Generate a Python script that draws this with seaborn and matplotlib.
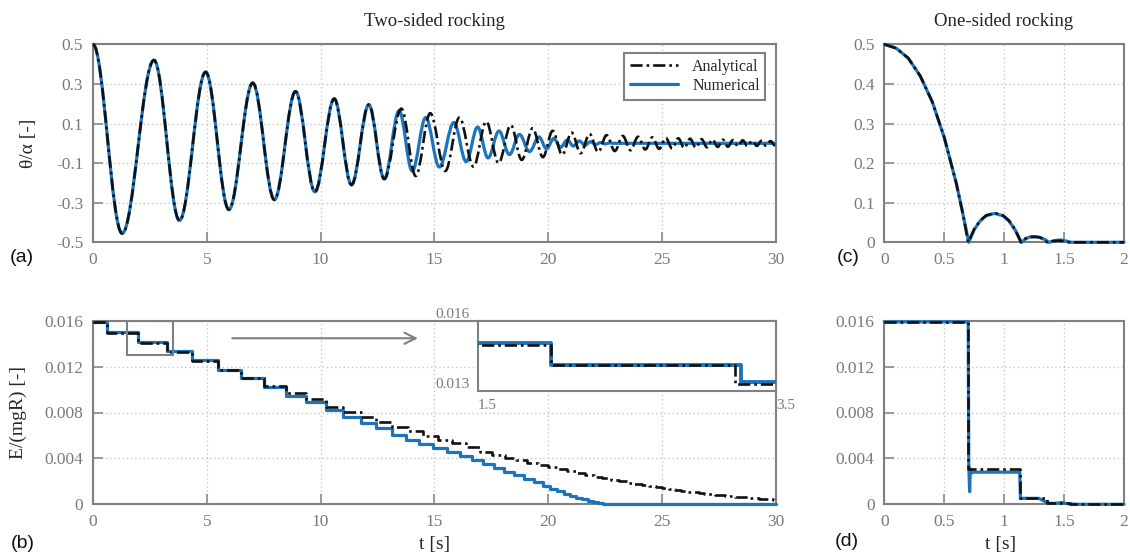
import matplotlib
matplotlib.use("Agg")
import matplotlib.pyplot as plt
import seaborn as sns
from matplotlib.path import Path
from matplotlib.patches import PathPatch, Rectangle
from matplotlib.lines import Line2D

# ---------------- data ----------------
# (a) two-sided rocking: extrema of theta/alpha (time [s], value)
a_common_t = [0.0, 1.28, 2.68, 3.8, 4.95, 5.97, 7.02, 7.97, 8.9, 9.75, 10.6, 11.36, 12.12, 12.8]
a_common_v = [0.5, -0.455, 0.42, -0.39, 0.36, -0.335, 0.305, -0.285, 0.262, -0.245, 0.225, -0.21, 0.195, -0.18]

a_ana_tail_t = [13.55, 14.18, 14.82, 15.48, 16.1, 16.72, 17.28, 17.82, 18.36, 18.84,
                19.32, 19.77, 20.2, 20.62, 21.03, 21.43, 21.82, 22.2, 22.57, 22.93,
                23.28, 23.62, 23.95, 24.27, 24.58, 24.88, 25.17, 25.45, 25.72, 25.98,
                26.24, 26.49, 26.74, 26.98, 27.22, 27.45, 27.68, 27.9, 28.12, 28.34,
                28.55, 28.76, 28.97, 29.17, 29.37, 29.57, 29.77, 29.97]
a_ana_tail_v = [0.175, -0.165, 0.152, -0.14, 0.13, -0.118, 0.11, -0.1, 0.092, -0.084,
                0.076, -0.07, 0.063, -0.058, 0.054, -0.05, 0.047, -0.044, 0.041, -0.039,
                0.037, -0.035, 0.033, -0.031, 0.03, -0.028, 0.027, -0.026, 0.025, -0.024,
                0.023, -0.022, 0.021, -0.02, 0.019, -0.018, 0.018, -0.017, 0.016, -0.015,
                0.015, -0.014, 0.013, -0.013, 0.012, -0.012, 0.011, -0.011]

a_num_tail_t = [13.45, 14.03, 14.62, 15.22, 15.86, 16.4, 16.9, 17.36, 17.84, 18.3,
                18.74, 19.18, 19.6, 19.93, 20.25, 20.55, 20.84, 21.11, 21.37, 21.62,
                21.86, 22.09, 22.31, 22.52, 22.72, 22.9, 30.0]
a_num_tail_v = [0.165, -0.14, 0.13, -0.12, 0.105, -0.093, 0.082, -0.074, 0.062, -0.057,
                0.045, -0.042, 0.032, -0.028, 0.024, -0.02, 0.017, -0.014, 0.012, -0.01,
                0.008, -0.006, 0.004, -0.003, 0.002, 0.0, 0.0]

# (b) two-sided rocking: energy steps (impact times and energy after each impact)
b_ana_imp = [0.62, 1.99, 3.23, 4.37, 5.48, 6.51, 7.5, 8.5, 9.35, 10.22,
             11.0, 11.76, 12.45, 13.15, 13.86, 14.5, 15.15, 15.79, 16.41, 17.0,
             17.55, 18.09, 18.6, 19.08, 19.55, 19.98, 20.41, 20.82, 21.23, 21.62,
             22.01, 22.38, 22.75, 23.1, 23.45, 23.78, 24.11, 24.42, 24.73, 25.02,
             25.31, 25.58, 25.85, 26.11, 26.36, 26.61, 26.86, 27.1, 27.33, 27.56,
             27.79, 28.01, 28.23, 28.44, 28.65, 28.86, 29.07, 29.27, 29.47, 29.67, 29.87]
b_ana_E = [0.01591, 0.01496, 0.01408, 0.0133, 0.01251, 0.0117, 0.01098, 0.01034, 0.00967, 0.00915, 0.0085,
           0.00807, 0.00763, 0.0072, 0.00676, 0.00635, 0.00598, 0.00564, 0.0053, 0.00498, 0.0046,
           0.00432, 0.00407, 0.00384, 0.00363, 0.00343, 0.00324, 0.00305, 0.00287, 0.0027, 0.00254,
           0.00239, 0.00225, 0.00212, 0.002, 0.00188, 0.00177, 0.00167, 0.00157, 0.00148, 0.0014,
           0.0013, 0.00123, 0.00116, 0.0011, 0.00104, 0.00098, 0.00093, 0.00088, 0.00083, 0.00079,
           0.00075, 0.00071, 0.00067, 0.00063, 0.0006, 0.00056, 0.00053, 0.0005, 0.00047, 0.00044, 0.00041]
b_num_imp = [0.62, 1.99, 3.27, 4.37, 5.48, 6.51, 7.5, 8.5, 9.35, 10.22,
             11.0, 11.76, 12.45, 13.12, 13.74, 14.32, 14.92, 15.54, 16.13, 16.65,
             17.13, 17.6, 18.07, 18.52, 18.96, 19.39, 19.77, 20.09, 20.4, 20.7,
             20.98, 21.24, 21.5, 21.74, 21.98, 22.2, 22.42, 22.62, 23.0]
b_num_E = [0.01591, 0.01505, 0.01412, 0.01338, 0.01255, 0.01172, 0.01098, 0.0102, 0.00945, 0.0089, 0.00822,
           0.00763, 0.00711, 0.00662, 0.00605, 0.0056, 0.00525, 0.0049, 0.00455, 0.0042, 0.00385,
           0.0035, 0.00318, 0.00285, 0.00252, 0.0022, 0.0019, 0.0016, 0.00135, 0.00112, 0.0009,
           0.00072, 0.00056, 0.00042, 0.0003, 0.0002, 0.00012, 0.00006, 0.00002, 0.0]

# (c) one-sided rocking: theta/alpha
c_ana_t = [0, 0.1, 0.2, 0.3, 0.4, 0.5, 0.6, 0.65, 0.7, 0.75, 0.8, 0.85, 0.92, 0.99, 1.04, 1.09, 1.14,
           1.175, 1.21, 1.25, 1.29, 1.325, 1.36, 1.4, 1.45, 1.5, 1.54, 2.0]
c_ana_v = [0.5, 0.49, 0.465, 0.42, 0.355, 0.265, 0.15, 0.08, 0.0, 0.033, 0.055, 0.068, 0.074, 0.068, 0.055, 0.033, 0.0,
           0.009, 0.013, 0.0135, 0.013, 0.009, 0.0, 0.003, 0.004, 0.003, 0.0, 0.0]
c_num_t = [0, 0.1, 0.2, 0.3, 0.4, 0.5, 0.6, 0.65, 0.705, 0.75, 0.8, 0.85, 0.92, 0.99, 1.04, 1.09, 1.145,
           1.185, 1.22, 1.26, 1.3, 1.34, 1.375, 1.42, 1.47, 1.52, 1.56, 2.0]
c_num_v = [0.5, 0.49, 0.465, 0.42, 0.355, 0.265, 0.15, 0.08, 0.0, 0.032, 0.054, 0.067, 0.073, 0.067, 0.054, 0.032, 0.0,
           0.01, 0.014, 0.0145, 0.012, 0.007, 0.0, 0.004, 0.006, 0.003, 0.0, 0.0]

# (d) one-sided rocking: energy
d_ana_t = [0, 0.697, 1.132, 1.36, 1.55]
d_ana_E = [0.0159, 0.00308, 0.00058, 0.0001, 0.00003]
d_num_t = [0, 0.70, 0.705, 0.712, 0.718, 0.725, 0.74, 1.13, 1.136, 1.145, 1.29, 1.33, 1.37, 1.42, 1.48, 1.53, 1.6, 2.0]
d_num_E = [0.0159, 0.0159, 0.0034, 0.0011, 0.0031, 0.0027, 0.0028, 0.0028, 0.0005, 0.00052, 0.00052,
           0.0003, 0.0001, 0.00008, 0.00015, 0.00005, 0.0, 0.0]

series_labels = ["Analytical", "Numerical"]
titles = ["Two-sided rocking", "One-sided rocking"]
zoom_window = (1.5, 3.5, 0.013, 0.016)

# ---------------- style ----------------
sns.set_style("white")
plt.rcParams["font.family"] = ["Liberation Serif", "DejaVu Serif"]
plt.rcParams["axes.unicode_minus"] = False

BLUE = "#1c75bc"
BLACK = "#111111"
GRAY = "#808080"
TICKC = "#7a7a7a"
DASH = (4.6, 1.5, 1.0, 1.5)
LW_B = 2.3
LW_K = 1.9

fig = plt.figure(figsize=(11.3, 5.56), dpi=100)
W, H = 1130.0, 556.0


def rect(l, t, r, b):
    return [l / W, 1 - b / H, (r - l) / W, (b - t) / H]


ax_a = fig.add_axes(rect(93, 44.3, 775.7, 242.3))
ax_c = fig.add_axes(rect(884.3, 44.3, 1124, 242.3))
ax_b = fig.add_axes(rect(93, 320.7, 775.7, 504.3))
ax_d = fig.add_axes(rect(884.3, 320.7, 1124, 504.3))


def style(ax, xlim, ylim, xt, xl, yt, yl):
    ax.set_xlim(*xlim)
    ax.set_ylim(*ylim)
    ax.set_xticks(xt)
    ax.set_xticklabels(xl)
    ax.set_yticks(yt)
    ax.set_yticklabels(yl)
    for s in ax.spines.values():
        s.set_color(GRAY)
        s.set_linewidth(1.5)
        s.set_visible(True)
    ax.tick_params(direction="in", length=7, width=1.1, color=GRAY, labelcolor=TICKC,
                   labelsize=12.5, pad=7, top=False, right=False, bottom=True, left=True)
    ax.grid(True, ls=(0, (1, 2)), color="#c8c8c8", lw=1.0)
    ax.set_axisbelow(True)


def smooth_path(ts, vs, k=0.36):
    verts = [(ts[0], vs[0])]
    codes = [Path.MOVETO]
    for i in range(len(ts) - 1):
        dt = ts[i + 1] - ts[i]
        verts += [(ts[i] + k * dt, vs[i]), (ts[i + 1] - k * dt, vs[i + 1]), (ts[i + 1], vs[i + 1])]
        codes += [Path.CURVE4] * 3
    return Path(verts, codes)


def sline(ax, x, y, color, lw, dashed=False, steps=False, z=3, clip=False):
    kw = dict(drawstyle="steps-post") if steps else {}
    sns.lineplot(x=x, y=y, ax=ax, color=color, lw=lw, estimator=None, sort=False,
                 legend=False, zorder=z, **kw)
    ln = ax.lines[-1]
    if dashed:
        ln.set_linestyle((0, DASH))
    ln.set_clip_on(clip)
    ln.set_solid_joinstyle("round")
    return ln


# ---------------- (a) ----------------
num_t = a_common_t + a_num_tail_t
num_v = a_common_v + a_num_tail_v
ana_t = a_common_t + a_ana_tail_t
ana_v = a_common_v + a_ana_tail_v
ax_a.add_patch(PathPatch(smooth_path(num_t, num_v), fill=False, edgecolor=BLUE, lw=LW_B,
                         joinstyle="round", zorder=3, clip_on=False))
ax_a.add_patch(PathPatch(smooth_path(ana_t, ana_v), fill=False, edgecolor=BLACK, lw=LW_K,
                         linestyle=(0, DASH), zorder=4, clip_on=False))
style(ax_a, (0, 30), (-0.5, 0.5), range(0, 31, 5), [str(v) for v in range(0, 31, 5)],
      [-0.5, -0.3, -0.1, 0.1, 0.3, 0.5], ["-0.5", "-0.3", "-0.1", "0.1", "0.3", "0.5"])
ax_a.set_ylabel("θ/α [-]", fontsize=14)
ax_a.yaxis.set_label_coords(-0.082, 0.5)
handles = [Line2D([], [], color=BLACK, lw=LW_K, linestyle=(0, DASH)),
           Line2D([], [], color=BLUE, lw=LW_B)]
leg = ax_a.legend(handles, series_labels, loc="upper right", bbox_to_anchor=(0.985, 0.955),
                  borderaxespad=0, fontsize=11.5, frameon=True, fancybox=False, framealpha=1,
                  edgecolor=GRAY, handlelength=3.0, handletextpad=0.9, labelspacing=0.2,
                  borderpad=0.35)
leg.get_frame().set_linewidth(1.5)

# ---------------- (c) ----------------
sline(ax_c, c_num_t, c_num_v, BLUE, LW_B, z=3)
sline(ax_c, c_ana_t, c_ana_v, BLACK, LW_K, dashed=True, z=4)
style(ax_c, (0, 2), (0, 0.5), [0, 0.5, 1, 1.5, 2], ["0", "0.5", "1", "1.5", "2"],
      [0, 0.1, 0.2, 0.3, 0.4, 0.5], ["0", "0.1", "0.2", "0.3", "0.4", "0.5"])

# ---------------- (b) ----------------
bt_num = [0] + b_num_imp + [30]
bE_num = b_num_E + [b_num_E[-1]]
bt_ana = [0] + b_ana_imp + [30]
bE_ana = b_ana_E + [b_ana_E[-1]]
sline(ax_b, bt_num, bE_num, BLUE, LW_B, steps=True, z=3)
sline(ax_b, bt_ana, bE_ana, BLACK, LW_K, dashed=True, steps=True, z=4)
Eticks = [0, 0.004, 0.008, 0.012, 0.016]
Elabels = ["0", "0.004", "0.008", "0.012", "0.016"]
style(ax_b, (0, 30), (0, 0.016), range(0, 31, 5), [str(v) for v in range(0, 31, 5)], Eticks, Elabels)
ax_b.set_ylabel("E/(mgR) [-]", fontsize=14)
ax_b.yaxis.set_label_coords(-0.097, 0.5)
ax_b.set_xlabel("t [s]", fontsize=14)
ax_b.xaxis.set_label_coords(0.5, -0.175)
x0, x1, y0, y1 = zoom_window
ax_b.add_patch(Rectangle((x0, y0), x1 - x0, y1 - y0, fill=False, edgecolor=GRAY, lw=1.5, zorder=5))
ax_b.annotate("", xy=(14.4, 0.01447), xytext=(6.0, 0.01447),
              arrowprops=dict(arrowstyle="->", color=GRAY, lw=1.5, mutation_scale=20), zorder=5)

# inset
ax_i = fig.add_axes(rect(477.7, 320.7, 775.7, 390.7))
ax_i.set_facecolor("white")
sline(ax_i, bt_num, bE_num, BLUE, 2.8, steps=True, z=3, clip=True)
sline(ax_i, bt_ana, bE_ana, BLACK, LW_K, dashed=True, steps=True, z=4, clip=True)
ax_i.set_xlim(x0, x1)
ax_i.set_ylim(y0, y1)
ax_i.set_xticks([x0, x1])
ax_i.set_xticklabels(["1.5", "3.5"], ha="left")
ax_i.set_yticks([y0, y1])
ax_i.set_yticklabels(["0.013", "0.016"], va="bottom")
ax_i.tick_params(length=0, labelsize=11, labelcolor=TICKC, pad=6)
ax_i.grid(False)
for s in ax_i.spines.values():
    s.set_color(GRAY)
    s.set_linewidth(1.5)

# ---------------- (d) ----------------
sline(ax_d, d_num_t, d_num_E, BLUE, LW_B, z=3)
sline(ax_d, d_ana_t + [2.0], d_ana_E + [d_ana_E[-1]], BLACK, LW_K, dashed=True, steps=True, z=4)
style(ax_d, (0, 2), (0, 0.016), [0, 0.5, 1, 1.5, 2], ["0", "0.5", "1", "1.5", "2"], Eticks, Elabels)
ax_d.set_xlabel("t [s]", fontsize=14)
ax_d.xaxis.set_label_coords(0.485, -0.175)

# ---------------- texts ----------------
fig.text(434.5 / W, 1 - 22 / H, titles[0], ha="center", va="center", fontsize=13.5, color="#222222")
fig.text(1004 / W, 1 - 22 / H, titles[1], ha="center", va="center", fontsize=13.5, color="#222222")
sans = ["Liberation Sans", "DejaVu Sans"]
for lab, x, y in [("(a)", 21.7, 258), ("(b)", 23, 543), ("(c)", 848, 258), ("(d)", 847, 542)]:
    fig.text(x / W, 1 - y / H, lab, ha="center", va="center", fontsize=14, family=sans, color="#111111")

fig.savefig("out.png", dpi=100)
